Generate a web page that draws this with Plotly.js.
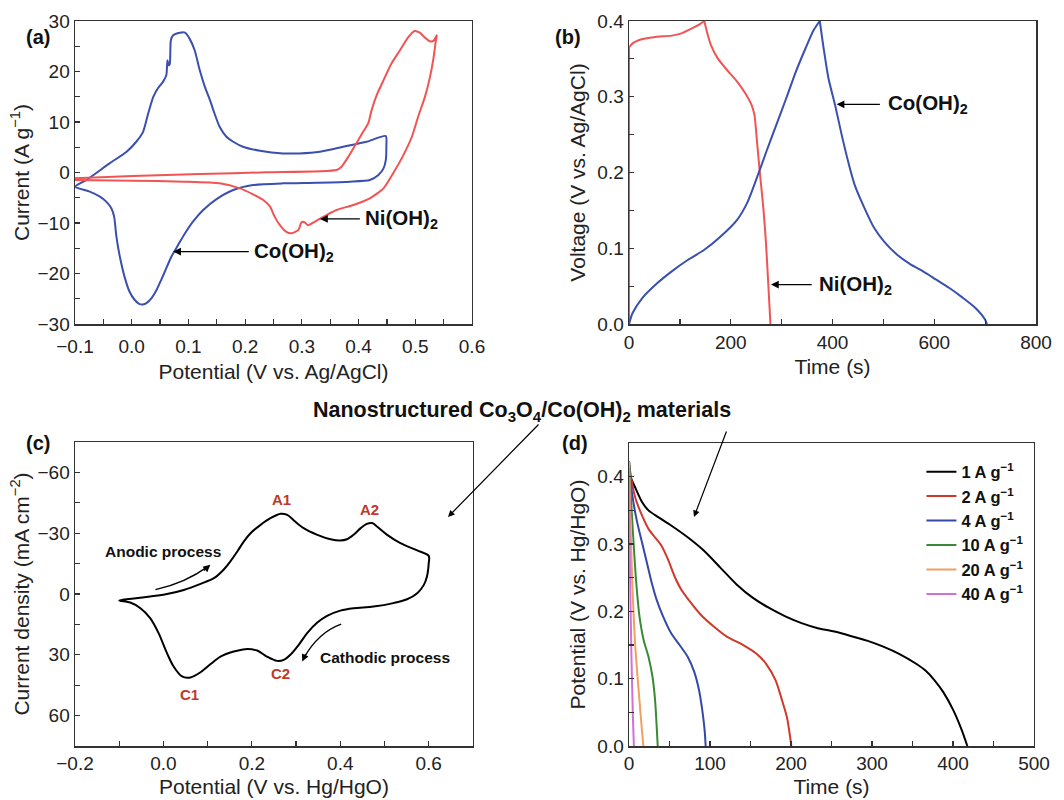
<!DOCTYPE html>
<html><head><meta charset="utf-8">
<script src="https://cdn.plot.ly/plotly-3.0.1.min.js"></script>
<style>html,body{margin:0;padding:0;background:#fff}#chart{width:1064px;height:800px}</style>
</head><body><div id="chart"></div>
<script>
// ---- Panel (a): CV, Current (A/g) vs Potential (V vs Ag/AgCl)
const aCoX = [-0.1,-0.08,-0.039,-0.009,0.008,0.02,0.029,0.038,0.046,0.055,0.061,0.063,0.065,0.067,0.069,0.073,0.085,0.094,0.102,0.111,0.12,0.129,0.138,0.146,0.155,0.167,0.179,0.196,0.226,0.267,0.296,0.332,0.373,0.414,0.448,0.449,0.448,0.444,0.435,0.42,0.385,0.326,0.267,0.214,0.179,0.149,0.126,0.108,0.094,0.082,0.07,0.061,0.052,0.044,0.035,0.026,0.02,0.013,0.005,-0.004,-0.012,-0.021,-0.027,-0.031,-0.036,-0.045,-0.056,-0.074,-0.1];
const aCoY = [-2.81,-1.49,1.81,4.11,6.09,8.06,11.69,14.98,16.63,17.94,19.26,22.23,21.24,21.44,26.18,27.17,27.69,27.69,26.51,24.2,20.25,16.96,14.32,11.69,9.05,7.08,6.09,5.1,4.31,3.78,3.78,4.11,5.1,6.09,7.21,5.1,2.46,0.82,-0.5,-1.49,-1.82,-2.02,-2.15,-2.48,-3.47,-5.31,-7.42,-9.72,-12.03,-14.33,-16.64,-18.95,-21.25,-23.23,-24.87,-25.86,-26.13,-26.0,-25.2,-23.56,-20.92,-16.64,-12.69,-8.74,-7.09,-5.77,-4.78,-3.79,-2.81];
const aNiX = [-0.1,0.002,0.12,0.238,0.361,0.37,0.382,0.396,0.408,0.417,0.423,0.432,0.444,0.458,0.473,0.488,0.499,0.508,0.517,0.526,0.532,0.538,0.536,0.532,0.526,0.517,0.505,0.494,0.479,0.461,0.444,0.42,0.391,0.361,0.341,0.323,0.311,0.304,0.299,0.294,0.282,0.272,0.261,0.252,0.244,0.232,0.214,0.191,0.155,0.091,0.002,-0.1];
const aNiY = [-1.16,-0.7,-0.3,0.03,0.49,1.15,3.12,5.76,8.06,9.71,12.35,15.31,18.27,21.57,24.2,26.84,28.02,27.69,26.71,25.98,26.05,27.17,25.85,22.56,18.93,14.98,11.03,7.08,3.45,-0.17,-3.14,-5.11,-6.43,-7.42,-8.6,-9.72,-10.45,-9.79,-9.92,-11.37,-12.03,-11.7,-10.38,-8.74,-6.76,-5.44,-4.32,-3.14,-2.15,-1.82,-1.62,-1.49];

// ---- Panel (b): charge/discharge, Voltage vs Time
const bNiT = [0,0,7,20,52,84,103,122.6,138.6,148,153,161,174,193,212.5,228.5,241,246.5,251,257,264,269,273.4,278];
const bNiV = [0,0.365,0.3705,0.375,0.379,0.3807,0.3837,0.39,0.3956,0.4,0.386,0.368,0.351,0.335,0.32,0.3046,0.289,0.276,0.245,0.201,0.153,0.109,0.0563,0];
const bCoT = [0,7,26,52,84,116,148,180,212.5,232,251,270,289.5,309,328,347,363,375,382.5,392,405,418,430.7,443.5,462.8,482,501,527,552.6,578,604,629.7,655,681,700,703.5];
const bCoV = [0,0.0145,0.0343,0.0519,0.0695,0.0848,0.098,0.1156,0.1376,0.1596,0.1925,0.2277,0.2629,0.298,0.3332,0.364,0.388,0.4,0.364,0.3244,0.2892,0.2497,0.2145,0.1837,0.153,0.1266,0.109,0.0914,0.0791,0.0695,0.0585,0.0475,0.0352,0.0211,0.0057,0];

// ---- Panel (c): CV, Current density vs Potential (V vs Hg/HgO)
const cX = [-0.1,-0.067,-0.03,0.008,0.046,0.084,0.114,0.136,0.151,0.167,0.182,0.197,0.219,0.242,0.265,0.28,0.295,0.317,0.348,0.378,0.4,0.415,0.43,0.446,0.46,0.472,0.483,0.506,0.536,0.574,0.6,0.6,0.596,0.589,0.574,0.551,0.52,0.475,0.43,0.4,0.37,0.348,0.325,0.306,0.287,0.272,0.257,0.234,0.212,0.185,0.159,0.129,0.106,0.084,0.061,0.042,0.023,0.008,-0.011,-0.03,-0.052,-0.075,-0.1];
const cY = [3.2,2.2,1.2,0,-2,-5,-7.8,-12,-16,-21,-26,-30,-34,-37.4,-39.6,-39,-36.3,-32.5,-29.2,-27,-26.4,-27,-29.2,-32.5,-34.6,-35,-33.3,-29.2,-25.1,-21.5,-18.8,-15.2,-8.6,-4.5,-0.4,2.6,4.5,6.2,7,8.2,10.8,14.1,19.3,25.1,30,32.5,33,30.9,27.9,27.2,28.4,30.9,34.7,38.6,41.2,40.7,35.8,29.2,19.3,11.9,7,4.2,3.2];
const cPeakNames = ['A1','A2','C1','C2'];
const cPeakX = [0.268,0.466,0.059,0.265];
const cPeakY = [-46.5,-41.5,49.5,39];

// ---- Panel (d): discharge curves at different current densities
const dNames = ['1 A g<sup>−1</sup>','2 A g<sup>−1</sup>','4 A g<sup>−1</sup>','10 A g<sup>−1</sup>','20 A g<sup>−1</sup>','40 A g<sup>−1</sup>'];
const dT = [
  [0,1,8,16,24,36,52,72.4,92.6,112.7,132.8,153,173,193,213,233,253.5,273.6,293.8,313.9,334,354,366,377,388,400,410.7,417.7],
  [0,0.8,8,16,24,32,40,48,56,64.4,76.5,88.5,104.6,120.7,141,157,169,181,189,195,199,200.4],
  [0,4,10,16,22,28,34,42,52,62.4,72.4,80.5,86.5,90.5,93.4,94.6],
  [0,2,4.8,8.9,12.9,18,24,29,32.2,34.2,35.4],
  [0,1.6,4,8,12.9,16,17.7],
  [0,0.8,2.8,4.8,6]
];
const dV = [
  [0.4225,0.4025,0.383,0.3625,0.35,0.34,0.3275,0.31,0.29,0.265,0.24,0.22,0.205,0.1925,0.1825,0.175,0.17,0.1635,0.1565,0.1475,0.1365,0.1225,0.112,0.098,0.08,0.054,0.024,0],
  [0.4225,0.4125,0.3675,0.3425,0.3225,0.31,0.2975,0.2775,0.2525,0.2325,0.2125,0.195,0.1775,0.1625,0.15,0.1375,0.1225,0.0975,0.0675,0.0425,0.0125,0],
  [0.4225,0.3725,0.3325,0.3025,0.2725,0.2425,0.2175,0.1925,0.1675,0.15,0.1325,0.11,0.0825,0.0525,0.0225,0],
  [0.4225,0.3775,0.3175,0.2425,0.1925,0.1575,0.1325,0.1025,0.0675,0.0275,0],
  [0.4225,0.3425,0.2425,0.1425,0.0675,0.0225,0],
  [0.4125,0.2925,0.1425,0.0425,0]
];
const dColors = ['#000000','#d0382a','#3548a8','#3a8a35','#f0a060','#d070d8'];

const FONT = 'Liberation Sans, Arial, sans-serif';
const BLUE = '#3a4fae', RED = '#f05454';

// split a series at corner indices so each smooth segment is splined separately
function segments(xs, ys, corners){
  const cuts = [0].concat(corners, [xs.length-1]);
  const out = [];
  for (let i=0;i<cuts.length-1;i++) out.push([xs.slice(cuts[i],cuts[i+1]+1), ys.slice(cuts[i],cuts[i+1]+1)]);
  return out;
}
function peakIndex(ys){ let m=0; ys.forEach((v,i)=>{ if(v>ys[m]) m=i; }); return m; }

const traces = [
  {x:aCoX,y:aCoY,xaxis:'x',yaxis:'y',mode:'lines',line:{color:BLUE,width:2,shape:'spline',smoothing:0.6},showlegend:false},
  {x:aNiX,y:aNiY,xaxis:'x',yaxis:'y',mode:'lines',line:{color:RED,width:2,shape:'spline',smoothing:0.6},showlegend:false},
  {x:cX,y:cY,xaxis:'x3',yaxis:'y3',mode:'lines',line:{color:'#000',width:2,shape:'spline',smoothing:0.9},showlegend:false}
];
segments(bNiT,bNiV,[1,peakIndex(bNiV)]).forEach(s=>traces.push({x:s[0],y:s[1],xaxis:'x2',yaxis:'y2',mode:'lines',line:{color:RED,width:2,shape:'spline',smoothing:0.7},showlegend:false}));
segments(bCoT,bCoV,[peakIndex(bCoV)]).forEach(s=>traces.push({x:s[0],y:s[1],xaxis:'x2',yaxis:'y2',mode:'lines',line:{color:BLUE,width:2,shape:'spline',smoothing:0.7},showlegend:false}));
dT.forEach((t,i)=>traces.push({x:t,y:dV[i],xaxis:'x4',yaxis:'y4',mode:'lines',name:dNames[i],line:{color:dColors[i],width:2,shape:'spline',smoothing:0.7}}));

function ax(domain, range, dtick, minor, fmt, title, anchor, lblOff, ttlOff){
  return {domain:domain, range:range, dtick:dtick, tick0:0, tickformat:fmt, anchor:anchor,
    ticks:'inside', ticklen:5, tickwidth:1.2, tickcolor:'#333', ticklabelstandoff:lblOff,
    minor:{dtick:minor, ticks:'inside', ticklen:5, tickwidth:1.2, tickcolor:'#333'},
    showline:true, linecolor:'#333', linewidth:1.5, mirror:true, showgrid:false, zeroline:false,
    tickfont:{family:FONT,size:19,color:'#222'},
    title:{text:title, font:{family:FONT,size:21,color:'#222'}, standoff:ttlOff}};
}

const layout = {
  width:1064, height:800, margin:{l:0,r:0,t:0,b:0}, paper_bgcolor:'#fff', plot_bgcolor:'#fff',
  font:{family:FONT,color:'#222'},
  xaxis: ax([0.0705,0.4436],[-0.1,0.6],0.1,0.05,'.1f','Potential (V vs. Ag/AgCl)','y',5,8),
  yaxis: ax([0.595,0.97375],[-30,30],10,5,'d','Current (A g<sup>−1</sup>)','x',0,2),
  xaxis2: ax([0.5912,0.9737],[0,800],200,100,'d','Time (s)','y2',1,7),
  yaxis2: ax([0.595,0.97375],[0,0.4],0.1,0.05,'.1f','Voltage (V vs. Ag/AgCl)','x2',0,6),
  xaxis3: ax([0.0705,0.4445],[-0.2,0.7],0.2,0.1,'.1f','Potential (V vs. Hg/HgO)','y3',0,6),
  yaxis3: ax([0.0675,0.4475],[75,-75],30,15,'d','Current density (mA cm<sup>−2</sup>)','x3',0,2),
  xaxis4: ax([0.5912,0.9718],[0,500],100,50,'d','Time (s)','y4',0,6),
  yaxis4: ax([0.0675,0.4462],[0,0.45],0.1,0.05,'.1f','Potential (V vs. Hg/HgO)','x4',0,6),
  legend:{x:0.866,y:0.432,xanchor:'left',yanchor:'top',bgcolor:'rgba(0,0,0,0)',
    font:{family:FONT,size:16.5,color:'#111',weight:'bold'},tracegroupgap:0,itemwidth:30},
  shapes:[
    {type:'path',xref:'x3',yref:'y3',path:'M -0.018 -2.1 Q 0.05 -5.5 0.1 -13.5',line:{color:'#000',width:1.3}},
    {type:'path',xref:'x3',yref:'y3',path:'M 0.402 14.9 Q 0.35 19 0.318 31.5',line:{color:'#000',width:1.3}}
  ],
  annotations:[]
};
const A = layout.annotations;
const bold = (t,sz,col)=>({text:'<b>'+t+'</b>',font:{family:FONT,size:sz,color:col||'#111'},showarrow:false});
// panel labels
[['(a)',24,24],['(b)',568,24],['(c)',24,443],['(d)',575,443]].forEach(p=>A.push(Object.assign(bold(p[0],20),{xref:'paper',yref:'paper',x:p[1]/1064,y:1-p[2]/800})));
// panel (a) arrows + labels
A.push({xref:'x',yref:'y',axref:'x',ayref:'y',x:0.332,y:-9.2,ax:0.405,ay:-9.2,text:'',showarrow:true,arrowhead:2,arrowsize:1.2,arrowwidth:1.3,arrowcolor:'#000'});
A.push(Object.assign(bold('Ni(OH)<sub>2</sub>',20.5),{xref:'x',yref:'y',x:0.408,y:-9.2,xanchor:'left'}));
A.push({xref:'x',yref:'y',axref:'x',ayref:'y',x:0.073,y:-15.65,ax:0.209,ay:-15.65,text:'',showarrow:true,arrowhead:2,arrowsize:1.2,arrowwidth:1.3,arrowcolor:'#000'});
A.push(Object.assign(bold('Co(OH)<sub>2</sub>',20.5),{xref:'x',yref:'y',x:0.212,y:-15.65,xanchor:'left'}));
// panel (b)
A.push({xref:'x2',yref:'y2',axref:'x2',ayref:'y2',x:408,y:0.29,ax:496,ay:0.29,text:'',showarrow:true,arrowhead:2,arrowsize:1.2,arrowwidth:1.3,arrowcolor:'#000'});
A.push(Object.assign(bold('Co(OH)<sub>2</sub>',20.5),{xref:'x2',yref:'y2',x:505,y:0.29,xanchor:'left'}));
A.push({xref:'x2',yref:'y2',axref:'x2',ayref:'y2',x:279,y:0.052,ax:362,ay:0.052,text:'',showarrow:true,arrowhead:2,arrowsize:1.2,arrowwidth:1.3,arrowcolor:'#000'});
A.push(Object.assign(bold('Ni(OH)<sub>2</sub>',20.5),{xref:'x2',yref:'y2',x:369,y:0.052,xanchor:'left'}));
// panel (c)
cPeakNames.forEach((n,i)=>A.push(Object.assign(bold(n,15,'#c0392b'),{xref:'x3',yref:'y3',x:cPeakX[i],y:cPeakY[i]})));
A.push(Object.assign(bold('Anodic process',15.5),{xref:'x3',yref:'y3',x:-0.001,y:-21}));
A.push(Object.assign(bold('Cathodic process',15.5),{xref:'x3',yref:'y3',x:0.35,y:31.4,xanchor:'left'}));
A.push({xref:'x3',yref:'y3',x:0.106,y:-14.4,ax:-8,ay:7,text:'',showarrow:true,arrowhead:2,arrowsize:1.1,arrowwidth:1.3,arrowcolor:'#000'});
A.push({xref:'x3',yref:'y3',x:0.314,y:33.3,ax:4,ay:-9,text:'',showarrow:true,arrowhead:2,arrowsize:1.1,arrowwidth:1.3,arrowcolor:'#000'});
// shared title + arrows
A.push(Object.assign(bold('Nanostructured Co<sub>3</sub>O<sub>4</sub>/Co(OH)<sub>2</sub> materials',21.5),{xref:'paper',yref:'paper',x:522/1064,y:1-411/800}));
A.push({xref:'paper',yref:'paper',x:448/1064,y:1-517/800,ax:92,ay:-94,text:'',showarrow:true,arrowhead:2,arrowsize:1.1,arrowwidth:1.2,arrowcolor:'#000'});
A.push({xref:'paper',yref:'paper',x:694/1064,y:1-517/800,ax:33,ay:-87,text:'',showarrow:true,arrowhead:2,arrowsize:1.1,arrowwidth:1.2,arrowcolor:'#000'});

Plotly.newPlot('chart', traces, layout, {staticPlot:true});
</script></body></html>
